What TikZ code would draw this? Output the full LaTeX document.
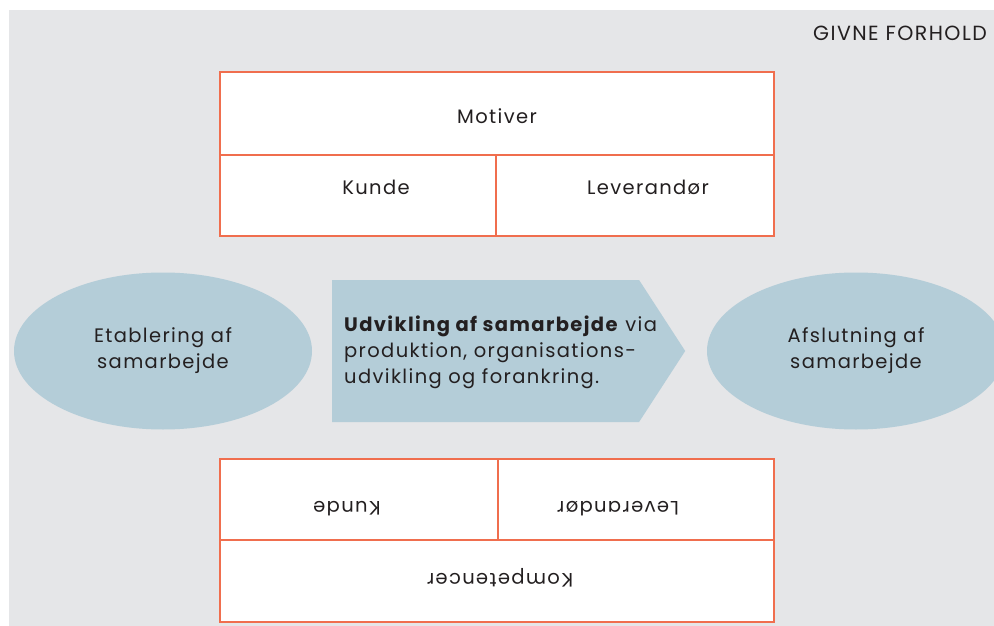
\documentclass[tikz,border=0pt]{standalone}
\usepackage{fontspec}
\setmainfont{Poppins}[LetterSpace=7]
\usetikzlibrary{
	shapes.geometric,
	shapes.symbols,
	% positioning,
	% calc,
}
\definecolor{bggrey}{HTML}{E5E6E8}
\definecolor{cellline}{HTML}{F06E4E}
\definecolor{flowblue}{HTML}{B4CDD8}
\definecolor{ink}{HTML}{231F20}
\tikzstyle{cell} = [draw=cellline, line width=1.3pt, fill=white, inner sep=0pt]
\tikzstyle{phase} = [ellipse, fill=flowblue, inner sep=0pt, minimum width=298, minimum height=157]
\tikzstyle{txt} = [text=ink, font=\fontsize{19.5}{26}\selectfont, align=center, inner sep=0pt]

\begin{document}
\begin{tikzpicture}[x=1pt, y=-1pt]
	\useasboundingbox (0,0) rectangle (994,626);
	\fill[bggrey] (9,10) rectangle (994,626);

	\node[txt, anchor=north east, font=\fontsize{20.5}{26}\selectfont] (givne) at (987,26) {GIVNE FORHOLD};

	% top box
	\node[cell, minimum width=554, minimum height=83] (motiver) at (497,113.5) {};
	\node[cell, minimum width=276, minimum height=81] (kundeT) at (358,195.5) {};
	\node[cell, minimum width=278, minimum height=81] (levT) at (635,195.5) {};
	\node[txt] (motiverTxt) at ([yshift=-3]motiver.center) {Motiver};
	\node[txt] (kundeTTxt) at ([xshift=18,yshift=8]kundeT.center) {Kunde};
	\node[txt] (levTTxt) at ([xshift=13,yshift=8]levT.center) {Leverandør};

	% phases
	\node[phase] (etab) at (163,351) {};
	\node[txt] (etabTxt) at (etab.center) {Etablering af\\samarbejde};
	\node[shape=signal, signal to=east, signal pointer angle=114, fill=flowblue,
		inner sep=0pt, minimum width=353, minimum height=142, anchor=west] (udv) at (332,351) {};
	\node[txt, align=left, anchor=west] (udvTxt) at (344,352)
		{\textbf{Udvikling af samarbejde} via\\produktion, organisations-\\udvikling og forankring.};
	\node[phase] (afsl) at (856,351) {};
	\node[txt] (afslTxt) at (afsl.center) {Afslutning af\\samarbejde};

	% bottom box, upside down
	\node[cell, minimum width=278, minimum height=81] (kundeB) at (359,499.5) {};
	\node[cell, minimum width=276, minimum height=81] (levB) at (636,499.5) {};
	\node[cell, minimum width=554, minimum height=82] (komp) at (497,581) {};
	\node[txt, rotate=180] (kundeBTxt) at ([xshift=-12,yshift=-9]kundeB.center) {Kunde};
	\node[txt, rotate=180] (levBTxt) at ([xshift=-18,yshift=-9]levB.center) {Leverandør};
	\node[txt, rotate=180] (kompTxt) at ([xshift=3,yshift=3]komp.center) {Kompetencer};

\end{tikzpicture}
\end{document}
